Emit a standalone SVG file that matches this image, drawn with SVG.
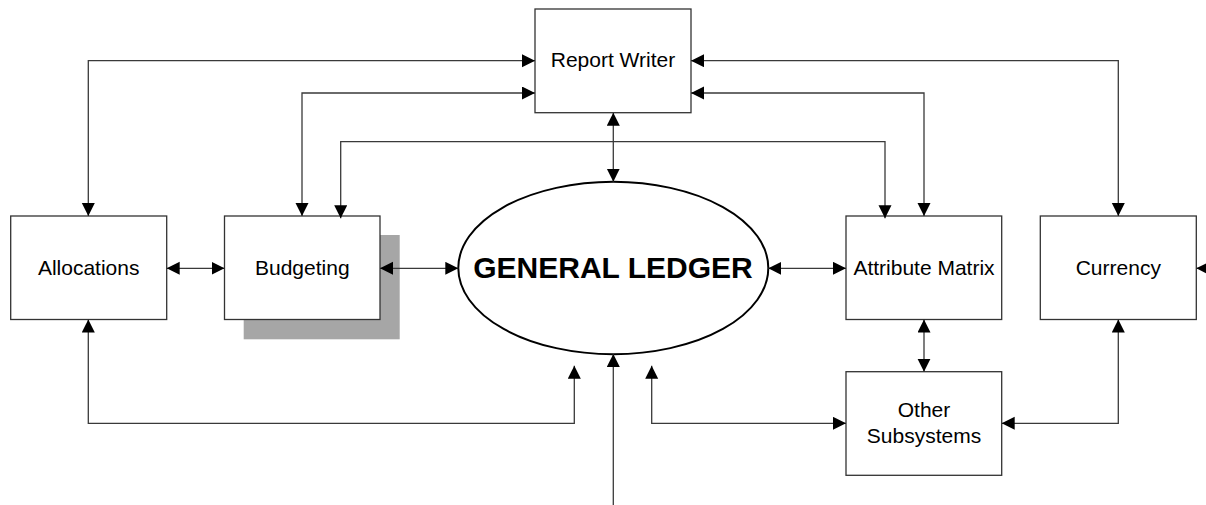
<svg xmlns="http://www.w3.org/2000/svg" width="1206" height="505" viewBox="0 0 1206 505">
  <style>
    .box { fill: #ffffff; stroke: #333333; stroke-width: 1.3; }
    .shadow { fill: #a6a6a6; stroke: none; }
    .hub { fill: #ffffff; stroke: #000000; stroke-width: 2; }
    .label { font-family: "Liberation Sans", Arial, sans-serif; font-size: 21px; fill: #000000; text-anchor: middle; }
    .title { font-family: "Liberation Sans", Arial, sans-serif; font-size: 30px; font-weight: bold; fill: #000000; text-anchor: middle; }
    .link { fill: none; stroke: #3a3a3a; stroke-width: 1.3; }
    .both { marker-start: url(#arrow); marker-end: url(#arrow); }
    .one { marker-end: url(#arrow); }
  </style>
  <defs>
    <marker id="arrow" markerUnits="userSpaceOnUse" markerWidth="14" markerHeight="14" refX="13" refY="6.5" orient="auto-start-reverse">
      <path d="M0,0 L13,6.5 L0,13 Z" fill="#000000"/>
    </marker>
  </defs>

  <rect width="1206" height="505" fill="#ffffff"/>

  <g id="report-writer">
    <rect class="box" x="535" y="9" width="156" height="103.7"/>
    <text class="label" x="613" y="67">Report Writer</text>
  </g>

  <g id="allocations">
    <rect class="box" x="10.7" y="216" width="156" height="103.5"/>
    <text class="label" x="88.7" y="275">Allocations</text>
  </g>

  <g id="budgeting">
    <rect class="shadow" x="243.7" y="235" width="156" height="104.3"/>
    <rect class="box" x="224.5" y="216" width="155.5" height="103.5"/>
    <text class="label" x="302.3" y="275">Budgeting</text>
  </g>

  <g id="general-ledger">
    <ellipse class="hub" cx="613.3" cy="268" rx="155" ry="86.2"/>
    <text class="title" x="613" y="277.5">GENERAL LEDGER</text>
  </g>

  <g id="attribute-matrix">
    <rect class="box" x="846" y="216" width="155.7" height="103.5"/>
    <text class="label" x="924" y="275">Attribute Matrix</text>
  </g>

  <g id="currency">
    <rect class="box" x="1040.3" y="216" width="156" height="103.5"/>
    <text class="label" x="1118.3" y="275">Currency</text>
  </g>

  <g id="other-subsystems">
    <rect class="box" x="846" y="371.7" width="155.7" height="103.6"/>
    <text class="label" x="924" y="416.7">Other</text>
    <text class="label" x="924" y="442.7">Subsystems</text>
  </g>

  <g id="connectors">
    <path class="link both" d="M88.3,216 V60.7 H535"/>
    <path class="link both" d="M691,60.7 H1118.3 V216"/>
    <path class="link both" d="M302,216 V93 H535"/>
    <path class="link both" d="M691,93 H924 V216"/>
    <path class="link both" d="M340.7,218.3 V141.7 H885 V218.3"/>
    <path class="link both" d="M613.3,112.7 V181.7"/>
    <path class="link both" d="M166.7,268.3 H224.5"/>
    <path class="link both" d="M380,268.3 H458.3"/>
    <path class="link both" d="M768.3,268.3 H846"/>
    <path class="link one" d="M1212,268.3 H1196.3"/>
    <path class="link both" d="M924,319.5 V371.7"/>
    <path class="link both" d="M1118.3,319.5 V423.3 H1001.7"/>
    <path class="link both" d="M88.3,319.5 V423.3 H574.3 V365.7"/>
    <path class="link both" d="M651.7,365.7 V423.3 H846"/>
    <path class="link one" d="M613.3,505 V354"/>
  </g>
</svg>
